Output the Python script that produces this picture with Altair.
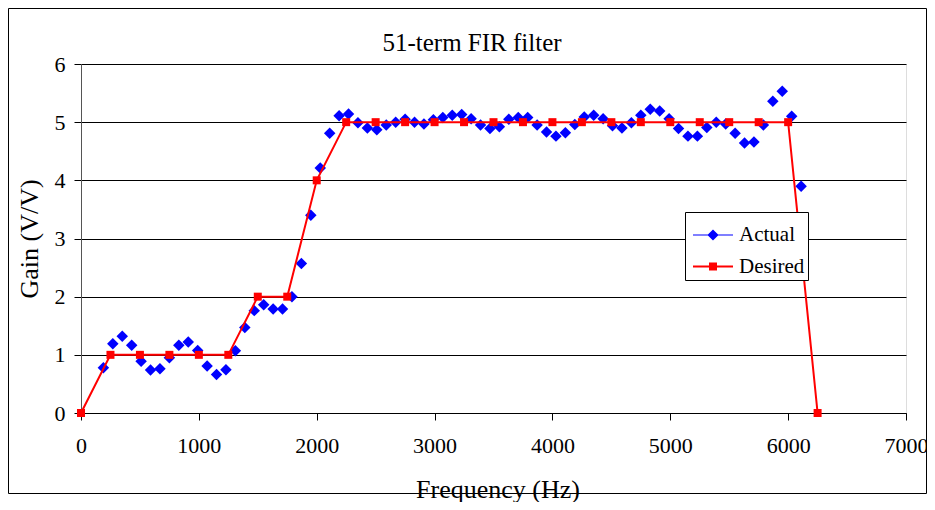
import altair as alt
import pandas as pd

# ---- data ----
actual_freq = [190, 270, 350, 430, 510, 590, 670, 750, 830, 910, 990, 1070, 1150, 1230, 1310,
               1390, 1470, 1550, 1630, 1710, 1790, 1870, 1950, 2030, 2110, 2190, 2270, 2350,
               2430, 2510, 2590, 2670, 2750, 2830, 2910, 2990, 3070, 3150, 3230, 3310, 3390,
               3470, 3550, 3630, 3710, 3790, 3870, 3950, 4030, 4110, 4190, 4270, 4350, 4430,
               4510, 4590, 4670, 4750, 4830, 4910, 4990, 5070, 5150, 5230, 5310, 5390, 5470,
               5550, 5630, 5710, 5790, 5870, 5950, 6030, 6110]
actual_gain = [0.78, 1.19, 1.32, 1.165, 0.89, 0.74, 0.76, 0.95, 1.165, 1.22, 1.075, 0.81, 0.66,
               0.745, 1.07, 1.47, 1.76, 1.86, 1.79, 1.79, 2.0, 2.57, 3.40, 4.21, 4.81, 5.11,
               5.14, 4.99, 4.90, 4.87, 4.95, 5.00, 5.05, 5.00, 4.97, 5.04, 5.08, 5.12, 5.13,
               5.06, 4.95, 4.89, 4.92, 5.05, 5.08, 5.08, 4.95, 4.83, 4.76, 4.82, 4.96, 5.09,
               5.12, 5.06, 4.94, 4.90, 4.99, 5.12, 5.22, 5.19, 5.06, 4.89, 4.76, 4.76, 4.91,
               5.00, 4.97, 4.81, 4.64, 4.66, 4.95, 5.36, 5.53, 5.10, 3.90]

desired_freq = [0, 250, 500, 750, 1000, 1250, 1500, 1750, 2000, 2250, 2500, 2750, 3000, 3250,
                3500, 3750, 4000, 4250, 4500, 4750, 5000, 5250, 5500, 5750, 6000, 6250]
desired_gain = [0, 1, 1, 1, 1, 1, 2, 2, 4, 5, 5, 5, 5, 5, 5, 5, 5, 5, 5, 5, 5, 5, 5, 5, 5, 0]

series_names = ["Actual", "Desired"]
series_colors = ["#0000ff", "#ff0000"]

x_ticks = [0, 1000, 2000, 3000, 4000, 5000, 6000, 7000]
y_ticks = [0, 1, 2, 3, 4, 5, 6]

# ---- tables ----
actual_df = pd.DataFrame({"freq": actual_freq, "gain": actual_gain})
desired_df = pd.DataFrame({"freq": desired_freq, "gain": desired_gain})
legend_df = pd.DataFrame({"series": series_names})

FONT = "Liberation Serif"

# plot markers
diamond = "M0,-1L1,0L0,1L-1,0Z"
square = "M-1,-1H1V1H-1Z"
# legend symbols: line segment + marker, both filled
legend_actual = "M-1,-0.03H1V0.03H-1ZM0,-0.28L0.28,0L0,0.28L-0.28,0Z"
legend_desired = "M-1,-0.05H1V0.05H-1ZM-0.2,-0.2H0.2V0.2H-0.2Z"

legend = alt.Legend(
    title=None, orient="none", legendX=604, legendY=148,
    padding=3, strokeColor="black", fillColor="white", cornerRadius=0,
    labelFont=FONT, labelFontSize=21, labelColor="black",
    symbolSize=1600, symbolOffset=5, labelOffset=6, rowPadding=1.6, symbolOpacity=1,
    symbolStrokeWidth=0,
)

x_enc = alt.X("freq:Q", scale=alt.Scale(domain=[0, 7000], nice=False),
              axis=alt.Axis(values=x_ticks, format="d", grid=False, tickSize=7,
                            tickColor="black", domainColor="black", labelFlush=False,
                            labelFont=FONT, labelFontSize=22, labelColor="black",
                            labelPadding=15, title="Frequency (Hz)", titleFont=FONT,
                            titleFontSize=26, titleFontWeight="normal", titleColor="black",
                            titleX=416.5, titleY=84, titleBaseline="alphabetic",
                            titleAlign="center"))
y_enc = alt.Y("gain:Q", scale=alt.Scale(domain=[0, 6], nice=False),
              axis=alt.Axis(values=y_ticks, grid=True, gridColor="black", gridWidth=1,
                            tickSize=7, tickColor="black", domainColor="#555555",
                            labelFlush=False,
                            labelFont=FONT, labelFontSize=22, labelColor="black",
                            labelPadding=9, title="Gain (V/V)", titleFont=FONT,
                            titleFontSize=26, titleFontWeight="normal", titleColor="black",
                            titleX=-44, titleY=174.5, titleAngle=270,
                            titleBaseline="alphabetic", titleAlign="center"))

frame = alt.Chart(pd.DataFrame({"k": [0]})).mark_rect(
    fill="transparent", stroke="black", strokeWidth=1
).encode(x=alt.value(-72.5), x2=alt.value(845.5), y=alt.value(-55.5), y2=alt.value(429.5))

actual_pts = alt.Chart(actual_df).mark_point(
    filled=True, size=132, opacity=1, shape=diamond, color=series_colors[0]
).encode(x=x_enc, y=y_enc)

desired_line = alt.Chart(desired_df).mark_line(
    color=series_colors[1], strokeWidth=2
).encode(x=x_enc, y=y_enc)

desired_pts = alt.Chart(desired_df).mark_point(
    filled=True, size=64, opacity=1, shape=square, color=series_colors[1]
).encode(x=x_enc, y=y_enc)

legend_layer = alt.Chart(legend_df).mark_point(filled=True, opacity=0, size=1600).encode(
    x=alt.value(0), y=alt.value(0),
    color=alt.Color("series:N", scale=alt.Scale(domain=series_names, range=series_colors),
                    legend=legend),
    shape=alt.Shape("series:N", scale=alt.Scale(domain=series_names,
                                                 range=[legend_actual, legend_desired]),
                    legend=legend),
)

chart = alt.layer(frame, actual_pts, desired_line, desired_pts, legend_layer).properties(
    width=825, height=349,
    autosize=alt.AutoSizeParams(type="none"),
    padding={"left": 73, "top": 56, "right": 21, "bottom": 89},
    title=alt.TitleParams(text="51-term FIR filter", font=FONT, fontSize=25,
                          fontWeight="normal", color="black", anchor="middle",
                          dx=-21.5, dy=73, baseline="alphabetic", offset=5),
).configure_view(stroke="transparent").configure(background="white")

chart.save("out.html", embed_options={"renderer": "svg", "actions": False})
